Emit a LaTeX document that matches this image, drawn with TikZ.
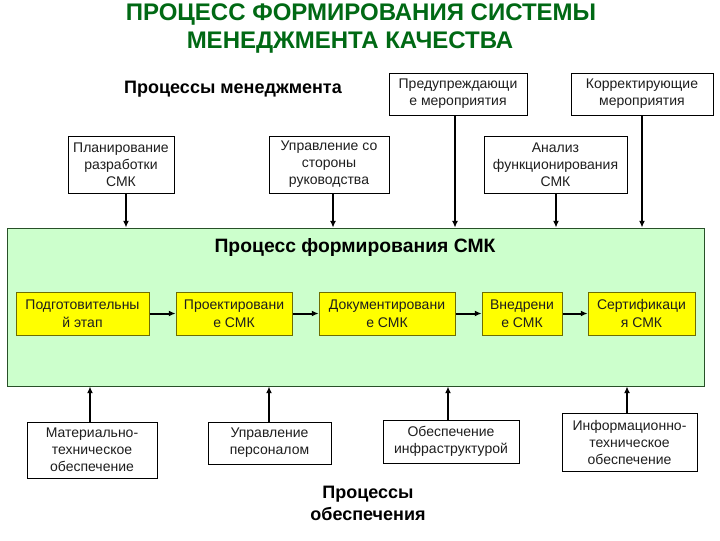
\documentclass[tikz,border=0pt]{standalone}
\usepackage{fontspec}
\setmainfont{Liberation Sans}
\usetikzlibrary{arrows.meta}
\definecolor{titlegreen}{RGB}{0,105,20}
\definecolor{smkfill}{RGB}{204,255,204}
\definecolor{smkdraw}{RGB}{40,80,40}
\definecolor{yfill}{RGB}{255,255,0}
\definecolor{ydraw}{RGB}{110,110,0}
\definecolor{boxtext}{RGB}{30,30,30}
\tikzset{
  box/.style={draw=black, line width=0.75pt, fill=white, align=center, inner sep=1pt, text=boxtext,
    font=\fontsize{10.5}{12.75}\selectfont},
  ybox/.style={draw=ydraw, line width=0.75pt, fill=yfill, align=center, inner sep=1pt, text=boxtext,
    font=\fontsize{10.5}{13.5}\selectfont},
  thickarr/.style={line width=1.5pt, -{Latex[length=5pt,width=4.5pt]}},
  thinarr/.style={line width=0.8pt, -{Latex[length=5pt,width=4.5pt]}},
  heading/.style={font=\fontsize{13.5}{16}\selectfont\bfseries, inner sep=0pt},
  titletext/.style={font=\fontsize{18}{20}\selectfont\bfseries, text=titlegreen, inner sep=0pt}
}
\begin{document}
\begin{tikzpicture}[x=0.75pt, y=-0.75pt]
\useasboundingbox (0,0) rectangle (720,540);
\fill[white] (0,0) rectangle (720,540);

% title
\node[titletext, anchor=base] (t1) at (361,20) {ПРОЦЕСС ФОРМИРОВАНИЯ СИСТЕМЫ};
\node[titletext, anchor=base] (t2) at (350,48) {МЕНЕДЖМЕНТА КАЧЕСТВА};

\node[heading, anchor=base] (mgmt) at (233,93) {Процессы менеджмента};

% top boxes
\node[box, minimum width=103.5pt, minimum height=31.5pt] (prev) at (458,94) {Предупреждающи\\е мероприятия};
\node[box, minimum width=106.5pt, minimum height=31.5pt] (corr) at (642,94) {Корректирующие\\мероприятия};
\node[box, minimum width=79.5pt, minimum height=42.75pt] (plan) at (121,164.5) {Планирование\\разработки\\СМК};
\node[box, minimum width=90pt, minimum height=42.75pt] (upr) at (329,164.5) {Управление со\\стороны\\руководства};
\node[box, minimum width=107.25pt, minimum height=42.75pt] (anal) at (555.5,164.5) {Анализ\\функционирования\\СМК};

% green process box
\node[draw=smkdraw, line width=0.75pt, fill=smkfill, minimum width=522.75pt, minimum height=118.5pt, inner sep=0pt] (smk) at (355.5,307) {};
\node[heading, font=\fontsize{14.5}{17}\selectfont\bfseries, anchor=base] (smktitle) at (355,252) {Процесс формирования СМК};

% yellow stages
\node[ybox, minimum width=99.75pt, minimum height=32.25pt] (y1) at (82.5,313.5) {Подготовительны\\й этап};
\node[ybox, minimum width=87pt, minimum height=32.25pt] (y2) at (234,313.5) {Проектировани\\е СМК};
\node[ybox, minimum width=102pt, minimum height=32.25pt] (y3) at (387,313.5) {Документировани\\е СМК};
\node[ybox, minimum width=60pt, minimum height=32.25pt] (y4) at (522,313.5) {Внедрени\\е СМК};
\node[ybox, minimum width=80.25pt, minimum height=32.25pt] (y5) at (641.5,313.5) {Сертификаци\\я СМК};

% bottom boxes
\node[box, minimum width=97.5pt, minimum height=42pt] (b1) at (92,450) {Материально-\\техническое\\обеспечение};
\node[box, minimum width=92.25pt, minimum height=31.5pt] (b2) at (269.5,443) {Управление\\персоналом};
\node[box, minimum width=102pt, minimum height=32.25pt] (b3) at (451,441.5) {Обеспечение\\инфраструктурой};
\node[box, minimum width=101.25pt, minimum height=43.5pt] (b4) at (629.5,442) {Информационно-\\техническое\\обеспечение};

\node[heading, align=center, font=\fontsize{13.5}{16}\selectfont\bfseries, anchor=base] (supp) at (368,520) {Процессы\\обеспечения};

% arrow x positions
\coordinate (xa) at (126,0);
\coordinate (xb) at (333,0);
\coordinate (xc) at (455,0);
\coordinate (xd) at (556,0);
\coordinate (xe) at (642,0);
\coordinate (xf) at (90,0);
\coordinate (xg) at (269,0);
\coordinate (xh) at (448,0);
\coordinate (xi) at (627,0);

% top arrows
\draw[thickarr] (plan.south -| xa) -- (smk.north -| xa);
\draw[thinarr] (upr.south -| xb) -- (smk.north -| xb);
\draw[thinarr] (prev.south -| xc) -- (smk.north -| xc);
\draw[thickarr] (anal.south -| xd) -- (smk.north -| xd);
\draw[thickarr] (corr.south -| xe) -- (smk.north -| xe);

% stage arrows
\draw[thickarr] (y1) -- (y2);
\draw[thickarr] (y2) -- (y3);
\draw[thickarr] (y3) -- (y4);
\draw[thickarr] (y4) -- (y5);

% bottom arrows
\draw[thickarr] (b1.north -| xf) -- (smk.south -| xf);
\draw[thickarr] (b2.north -| xg) -- (smk.south -| xg);
\draw[thickarr] (b3.north -| xh) -- (smk.south -| xh);
\draw[thinarr] (b4.north -| xi) -- (smk.south -| xi);
\end{tikzpicture}
\end{document}
